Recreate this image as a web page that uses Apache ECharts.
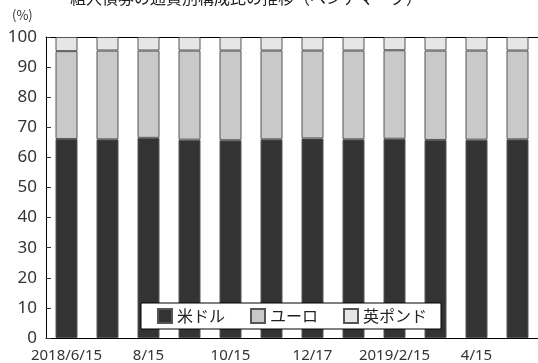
<!DOCTYPE html>
<html>
<head>
<meta charset="utf-8">
<script src="https://cdn.jsdelivr.net/npm/echarts@6/dist/echarts.min.js"></script>
<style>
  html, body { margin: 0; padding: 0; background: #fff; }
  #chart { width: 538px; height: 363px; }
</style>
</head>
<body>
<div id="chart"></div>
<script>
// Month-end reference dates (every other label is shown on the axis)
const dates = ['2018/6/15', '7/13', '8/15', '9/14', '10/15', '11/15', '12/17',
               '1/15', '2019/2/15', '3/15', '4/15', '5/15'];

// Currency composition (%) of the benchmark
const usd = [66.1, 66.0, 66.5, 65.9, 65.7, 66.0, 66.3, 66.0, 66.2, 65.8, 65.9, 66.0];
const eur = [29.2, 29.5, 29.0, 29.6, 29.8, 29.5, 29.2, 29.5, 29.4, 29.7, 29.6, 29.5];
const gbp = [4.7, 4.5, 4.5, 4.5, 4.5, 4.5, 4.5, 4.5, 4.4, 4.5, 4.5, 4.5];

const yTicks = { min: 0, max: 100, interval: 10 };

const jpFont = '"Noto Sans CJK JP", "Noto Sans", sans-serif';

const chart = echarts.init(document.getElementById('chart'), null, { renderer: 'canvas' });

function barSeries(name, data, color) {
  return {
    name: name,
    type: 'bar',
    stack: 'total',
    data: data,
    barWidth: 22,
    xAxisIndex: 0,
    itemStyle: { color: color, borderColor: '#555', borderWidth: 1 }
  };
}

chart.setOption({
  animation: false,
  backgroundColor: '#fff',
  title: {
    text: '組入債券の通貨別構成比の推移（ベンチマーク）',
    left: 65,
    top: -15,
    textStyle: { fontFamily: jpFont, fontSize: 16, fontWeight: 'normal', color: '#222' }
  },
  graphic: [{
    type: 'text',
    left: 12,
    top: 9,
    style: { text: '(%)', fontFamily: jpFont, fontSize: 13, fill: '#333' }
  }],
  legend: {
    left: 141,
    top: 303,
    orient: 'horizontal',
    backgroundColor: '#fff',
    borderColor: '#000',
    borderWidth: 1,
    borderRadius: 0,
    padding: [5, 14, 5, 16],
    itemGap: 25,
    itemWidth: 14,
    itemHeight: 14,
    icon: 'rect',
    textStyle: { fontFamily: jpFont, fontSize: 16, color: '#222' },
    data: ['米ドル', 'ユーロ', '英ポンド']
  },
  grid: { left: 46, top: 37, width: 497.5, height: 301 },
  xAxis: [{
    type: 'category',
    data: dates,
    position: 'bottom',
    axisLine: { show: true, lineStyle: { color: '#000', width: 1 } },
    axisTick: { show: false },
    axisLabel: {
      interval: 1,
      margin: 10,
      fontFamily: '"Liberation Sans Narrow", "Noto Sans", sans-serif',
      fontSize: 15,
      color: '#333'
    }
  }, {
    type: 'category',
    data: dates,
    position: 'top',
    axisLine: { show: true, lineStyle: { color: '#000', width: 1 } },
    axisTick: { show: false },
    axisLabel: { show: false }
  }],
  yAxis: {
    type: 'value',
    min: yTicks.min,
    max: yTicks.max,
    interval: yTicks.interval,
    axisLine: { show: true, lineStyle: { color: '#000', width: 1 } },
    axisTick: { show: true, inside: true, length: 5, lineStyle: { color: '#333' } },
    splitLine: { show: false },
    axisLabel: { margin: 9, fontFamily: '"Noto Sans", sans-serif', fontSize: 17, color: '#333' }
  },
  series: [
    barSeries('米ドル', usd, '#333333'),
    barSeries('ユーロ', eur, '#c9c9c9'),
    barSeries('英ポンド', gbp, '#e6e6e6')
  ]
});
</script>
</body>
</html>
